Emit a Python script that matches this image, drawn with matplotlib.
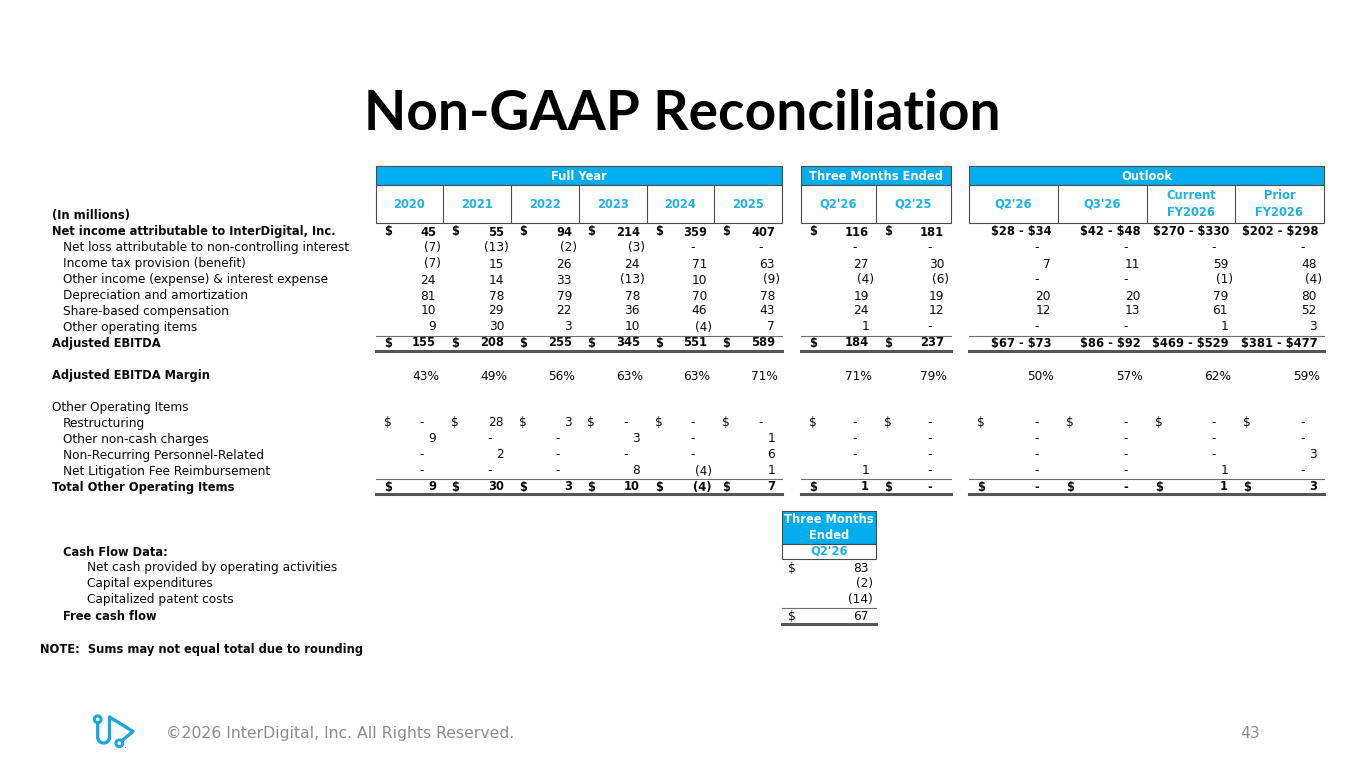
import matplotlib
matplotlib.use("Agg")
import matplotlib.pyplot as plt
from matplotlib.patches import Rectangle, Circle
from matplotlib.path import Path
from matplotlib.patches import PathPatch

plt.rcParams["text.parse_math"] = False

# ---------------- data ----------------
title = "Non-GAAP Reconciliation"
fy_years = ["2020", "2021", "2022", "2023", "2024", "2025"]
tm_periods = ["Q2'26", "Q2'25"]
ol_periods = ["Q2'26", "Q3'26", "Current\nFY2026", "Prior\nFY2026"]

row_labels = [
    "Net income attributable to InterDigital, Inc.",
    "Net loss attributable to non-controlling interest",
    "Income tax provision (benefit)",
    "Other income (expense) & interest expense",
    "Depreciation and amortization",
    "Share-based compensation",
    "Other operating items",
    "Adjusted EBITDA",
]
fy_values = [
    [45, 55, 94, 214, 359, 407],
    [-7, -13, -2, -3, 0, 0],
    [-7, 15, 26, 24, 71, 63],
    [24, 14, 33, -13, 10, -9],
    [81, 78, 79, 78, 70, 78],
    [10, 29, 22, 36, 46, 43],
    [9, 30, 3, 10, -4, 7],
    [155, 208, 255, 345, 551, 589],
]
tm_values = [
    [116, 181],
    [0, 0],
    [27, 30],
    [-4, -6],
    [19, 19],
    [24, 12],
    [1, 0],
    [184, 237],
]
ol_values = [
    ["$28 - $34", "$42 - $48", "$270 - $330", "$202 - $298"],
    [0, 0, 0, 0],
    [7, 11, 59, 48],
    [0, 0, -1, -4],
    [20, 20, 79, 80],
    [12, 13, 61, 52],
    [0, 0, 1, 3],
    ["$67 - $73", "$86 - $92", "$469 - $529", "$381 - $477"],
]

margin_label = "Adjusted EBITDA Margin"
fy_margin = [43, 49, 56, 63, 63, 71]
tm_margin = [71, 79]
ol_margin = [50, 57, 62, 59]

other_header = "Other Operating Items"
other_labels = [
    "Restructuring",
    "Other non-cash charges",
    "Non-Recurring Personnel-Related",
    "Net Litigation Fee Reimbursement",
    "Total Other Operating Items",
]
fy_other = [
    [0, 28, 3, 0, 0, 0],
    [9, 0, 0, 3, 0, 1],
    [0, 2, 0, 0, 0, 6],
    [0, 0, 0, 8, -4, 1],
    [9, 30, 3, 10, -4, 7],
]
tm_other = [
    [0, 0],
    [0, 0],
    [0, 0],
    [1, 0],
    [1, 0],
]
ol_other = [
    [0, 0, 0, 0],
    [0, 0, 0, 0],
    [0, 0, 0, 3],
    [0, 0, 1, 0],
    [0, 0, 1, 3],
]

cf_header = "Cash Flow Data:"
cf_labels = [
    "Net cash provided by operating activities",
    "Capital expenditures",
    "Capitalized patent costs",
    "Free cash flow",
]
cf_values = [83, -2, -14, 67]

note = "NOTE:  Sums may not equal total due to rounding"
footer = "\u00a92026 InterDigital, Inc. All Rights Reserved."
page_no = "43"

# ---------------- style / layout ----------------
BLUE = "#00AEEF"
HBLUE = "#1FB0E6"
TXT = "#0a0a0a"
GRID = "#4a4a4a"
FOOT = "#8c8c8c"
FONT = "DejaVu Sans"

W, H = 1365, 768
fig = plt.figure(figsize=(W / 100, H / 100), dpi=100)
ax = fig.add_axes([0, 0, 1, 1])
ax.set_xlim(0, W)
ax.set_ylim(H, 0)
ax.axis("off")
renderer = fig.canvas.get_renderer()


def fit(text, target, family=FONT, weight="normal"):
    t = ax.text(0, 0, text, fontsize=10, family=family, fontweight=weight,
                parse_math=False)
    bb = t.get_window_extent(renderer)
    t.remove()
    return 10 * target / bb.width


FS = fit(row_labels[1], 284)
FSB = fit(row_labels[0], 284, weight="bold")
FST = fit(title, 637, family="Lato", weight="bold")
FSF = fit(footer, 347)


def txt(x, y, s, ha="left", bold=False, color=TXT, fs=None, **kw):
    ax.text(x, y, s, ha=ha, va="center", color=color,
            fontsize=fs if fs else (FSB if bold else FS),
            fontweight="bold" if bold else "normal", family=FONT,
            parse_math=False, **kw)


# title
ax.text(682, 114, title, ha="center", va="center", fontsize=FST,
        fontweight="bold", family="Lato", color="#000000", parse_math=False)

FY_E = [376, 443, 511, 579, 647, 714, 782]
TM_E = [801, 876, 951]
OL_E = [969, 1058, 1147, 1235, 1324]
BAND_T, BAND_B, HEAD_B = 166, 185, 223


def header(edges, group_title, cols):
    l, r = edges[0], edges[-1]
    ax.add_patch(Rectangle((l, BAND_T), r - l, BAND_B - BAND_T, facecolor=BLUE,
                           edgecolor=GRID, lw=0.8))
    ax.text((l + r) / 2, (BAND_T + BAND_B) / 2 + 0.5, group_title, ha="center",
            va="center", color="white", fontsize=FSB, fontweight="bold", family=FONT,
            parse_math=False)
    ax.add_patch(Rectangle((l, BAND_B), r - l, HEAD_B - BAND_B, facecolor="white",
                           edgecolor=GRID, lw=0.8))
    for i, c in enumerate(cols):
        if i > 0:
            ax.plot([edges[i], edges[i]], [BAND_B, HEAD_B], color=GRID, lw=0.8)
        ax.text((edges[i] + edges[i + 1]) / 2, (BAND_B + HEAD_B) / 2, c, ha="center",
                va="center", color=HBLUE, fontsize=FSB, fontweight="bold",
                family=FONT, linespacing=1.35, parse_math=False)


header(FY_E, "Full Year", fy_years)
header(TM_E, "Three Months Ended", tm_periods)
header(OL_E, "Outlook", ol_periods)


def cell(l, r, y, v, bold=False, dollar=False, pct=False):
    if dollar:
        txt(l + 8, y, "$", bold=bold)
    if isinstance(v, str):
        txt(r - 6, y, v, ha="right", bold=bold)
    elif pct:
        txt(r - 4, y, f"{v}%", ha="right", bold=bold)
    elif v == 0:
        txt(r - 21, y, "-", ha="center", bold=bold)
    elif v < 0:
        txt(r - 2, y, f"({-v})", ha="right", bold=bold)
    else:
        txt(r - 7, y, str(v), ha="right", bold=bold)


def row(y, fyv, tmv, olv, bold=False, dollar=False, ol_dollar=False, pct=False):
    for i, v in enumerate(fyv):
        cell(FY_E[i], FY_E[i + 1], y, v, bold, dollar, pct)
    for i, v in enumerate(tmv):
        cell(TM_E[i], TM_E[i + 1], y, v, bold, dollar, pct)
    for i, v in enumerate(olv):
        cell(OL_E[i], OL_E[i + 1], y, v, bold, ol_dollar, pct)


def rules(y1, y2):
    for e in (FY_E, TM_E, OL_E):
        ax.plot([e[0], e[-1]], [y1, y1], color="#6e6e6e", lw=0.8)
        ax.plot([e[0], e[-1]], [y2, y2], color="#555555", lw=2.2)


LX_B, LX_I = 52, 63
txt(LX_B, 215, "(In millions)", bold=True)
ys = [232, 248, 264, 280, 296, 311, 327, 343]
for k, lab in enumerate(row_labels):
    b = k in (0, 7)
    txt(LX_B if b else LX_I, ys[k], lab, bold=b)
    row(ys[k], fy_values[k], tm_values[k], ol_values[k], bold=b, dollar=b)
rules(335.5, 351)

txt(LX_B, 376, margin_label, bold=True)
row(376, fy_margin, tm_margin, ol_margin, pct=True)

txt(LX_B, 408, other_header)
ys2 = [423, 439, 455, 471, 487]
for k, lab in enumerate(other_labels):
    b = k == 4
    txt(LX_B if b else LX_I, ys2[k], lab, bold=b)
    d = k in (0, 4)
    row(ys2[k], fy_other[k], tm_other[k], ol_other[k], bold=b, dollar=d, ol_dollar=d)
rules(478.5, 494)

# cash flow block
CL, CR = 782, 876
ax.add_patch(Rectangle((CL, 511), CR - CL, 33, facecolor=BLUE, edgecolor=GRID, lw=0.8))
ax.text((CL + CR) / 2, 527.5, "Three Months\nEnded", ha="center", va="center",
        color="white", fontsize=FSB, fontweight="bold", family=FONT, linespacing=1.3,
        parse_math=False)
ax.add_patch(Rectangle((CL, 544), CR - CL, 15, facecolor="white", edgecolor=GRID, lw=0.8))
ax.text((CL + CR) / 2, 551.5, tm_periods[0], ha="center", va="center", color=HBLUE,
        fontsize=FSB, fontweight="bold", family=FONT, parse_math=False)
txt(63, 552, cf_header, bold=True)
cys = [568, 584, 600, 616]
for k, lab in enumerate(cf_labels):
    b = k == 3
    txt(63 if b else 87, cys[k], lab, bold=b)
    v = cf_values[k]
    if k in (0, 3):
        txt(CL + 6, cys[k], "$")
    if v < 0:
        txt(CR - 3, cys[k], f"({-v})", ha="right")
    else:
        txt(CR - 7, cys[k], str(v), ha="right")
ax.plot([CL, CR], [607.5, 607.5], color="#6e6e6e", lw=0.8)
ax.plot([CL, CR], [624, 624], color="#555555", lw=2.2)

txt(40, 649, note, bold=True)

# footer
ax.text(166, 733, footer, ha="left", va="center", color=FOOT, fontsize=FSF, family=FONT,
        parse_math=False)
ax.text(1260, 733, page_no, ha="right", va="center", color=FOOT, fontsize=FSF, family=FONT,
        parse_math=False)

# logo
LB = "#1AA7E1"
verts = [(97.7, 723), (97.7, 737), (97.7, 745), (109.5, 745), (109.5, 737),
         (109.5, 717), (133, 731.5), (121.5, 741)]
codes = [Path.MOVETO, Path.LINETO, Path.CURVE4, Path.CURVE4, Path.CURVE4,
         Path.LINETO, Path.LINETO, Path.LINETO]
ax.add_patch(PathPatch(Path(verts, codes), facecolor="none", edgecolor=LB, lw=2.4,
                       capstyle="round", joinstyle="round"))
ax.add_patch(Circle((97.7, 719.3), 3.4, facecolor="white", edgecolor=LB, lw=2.2))
ax.add_patch(Circle((119.3, 743.3), 3.4, facecolor="white", edgecolor=LB, lw=2.2))
ax.add_patch(Circle((125.5, 747.5), 0.6, facecolor=LB, edgecolor="none"))

fig.savefig("out.png", dpi=100, facecolor="white")
